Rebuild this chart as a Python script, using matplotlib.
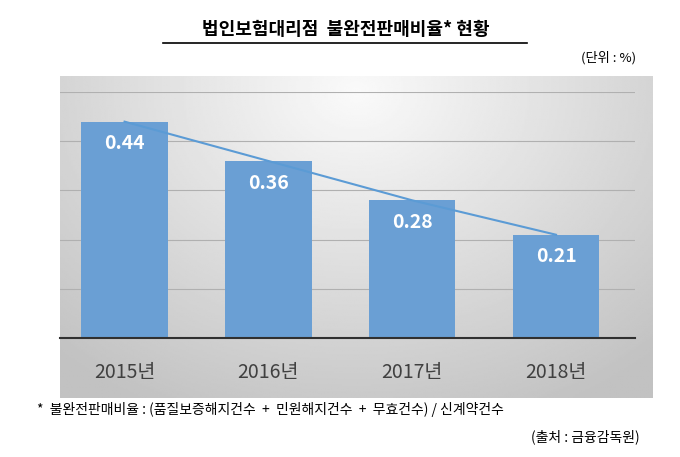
import numpy as np
import matplotlib.pyplot as plt
from matplotlib.lines import Line2D

plt.rcParams['font.family'] = ['Noto Sans CJK JP', 'Noto Sans CJK KR', 'DejaVu Sans']

years = ['2015년', '2016년', '2017년', '2018년']
ratios = [0.44, 0.36, 0.28, 0.21]
yticks = [0.0, 0.1, 0.2, 0.3, 0.4, 0.5]

fig = plt.figure(figsize=(6.8, 4.57), dpi=100)

# gradient background box
bg = fig.add_axes([0.088, 0.129, 0.872, 0.705])
yy, xx = np.mgrid[0:1:200j, 0:1:300j]
r = np.sqrt(((xx - 0.5) / 0.75) ** 2 + ((yy - 0.05) / 1.1) ** 2)
bg.imshow(0.98 - 0.22 * np.clip(r, 0, 1), cmap='gray', vmin=0, vmax=1,
          aspect='auto', extent=[0, 1, 0, 1], origin='upper')
bg.axis('off')

ax = fig.add_axes([0.088, 0.2604, 0.846, 0.538])
ax.patch.set_alpha(0)
x = np.arange(len(years))
ax.bar(x, ratios, width=0.6, color='#6a9fd4', zorder=2)
ax.plot(x, ratios, color='#5b9bd5', lw=1.5, zorder=3)
for xi, v in zip(x, ratios):
    ax.text(xi, v - 0.045, f'{v:.2f}', ha='center', va='center',
            color='white', fontsize=14, fontweight='bold', zorder=4)
ax.set_xlim(-0.45, 3.55)
ax.set_ylim(0, 0.5)
ax.set_yticks(yticks)
ax.yaxis.grid(True, color='#b0b0b0', lw=0.8, zorder=0)
ax.tick_params(left=False, labelleft=False, bottom=False)
for s in ['left', 'right', 'top']:
    ax.spines[s].set_visible(False)
ax.spines['bottom'].set_color('#303030')
ax.spines['bottom'].set_linewidth(1.5)
ax.set_xticks(x)
ax.set_xticklabels(years, fontsize=14, color='#404040')
ax.tick_params(axis='x', pad=14)

fig.text(0.508, 0.935, '법인보험대리점  불완전판매비율* 현황', ha='center', va='center',
         fontsize=13, fontweight='bold')
fig.add_artist(Line2D([0.24, 0.775], [0.905, 0.905], color='black', lw=1.2))
fig.text(0.935, 0.873, '(단위 : %)', ha='right', va='center', fontsize=9.5)
fig.text(0.055, 0.103, '*  불완전판매비율 : (품질보증해지건수  +  민원해지건수  +  무효건수) / 신계약건수',
         ha='left', va='center', fontsize=10)
fig.text(0.94, 0.045, '(출처 : 금융감독원)', ha='right', va='center', fontsize=10)

fig.savefig('out.png', dpi=100)
